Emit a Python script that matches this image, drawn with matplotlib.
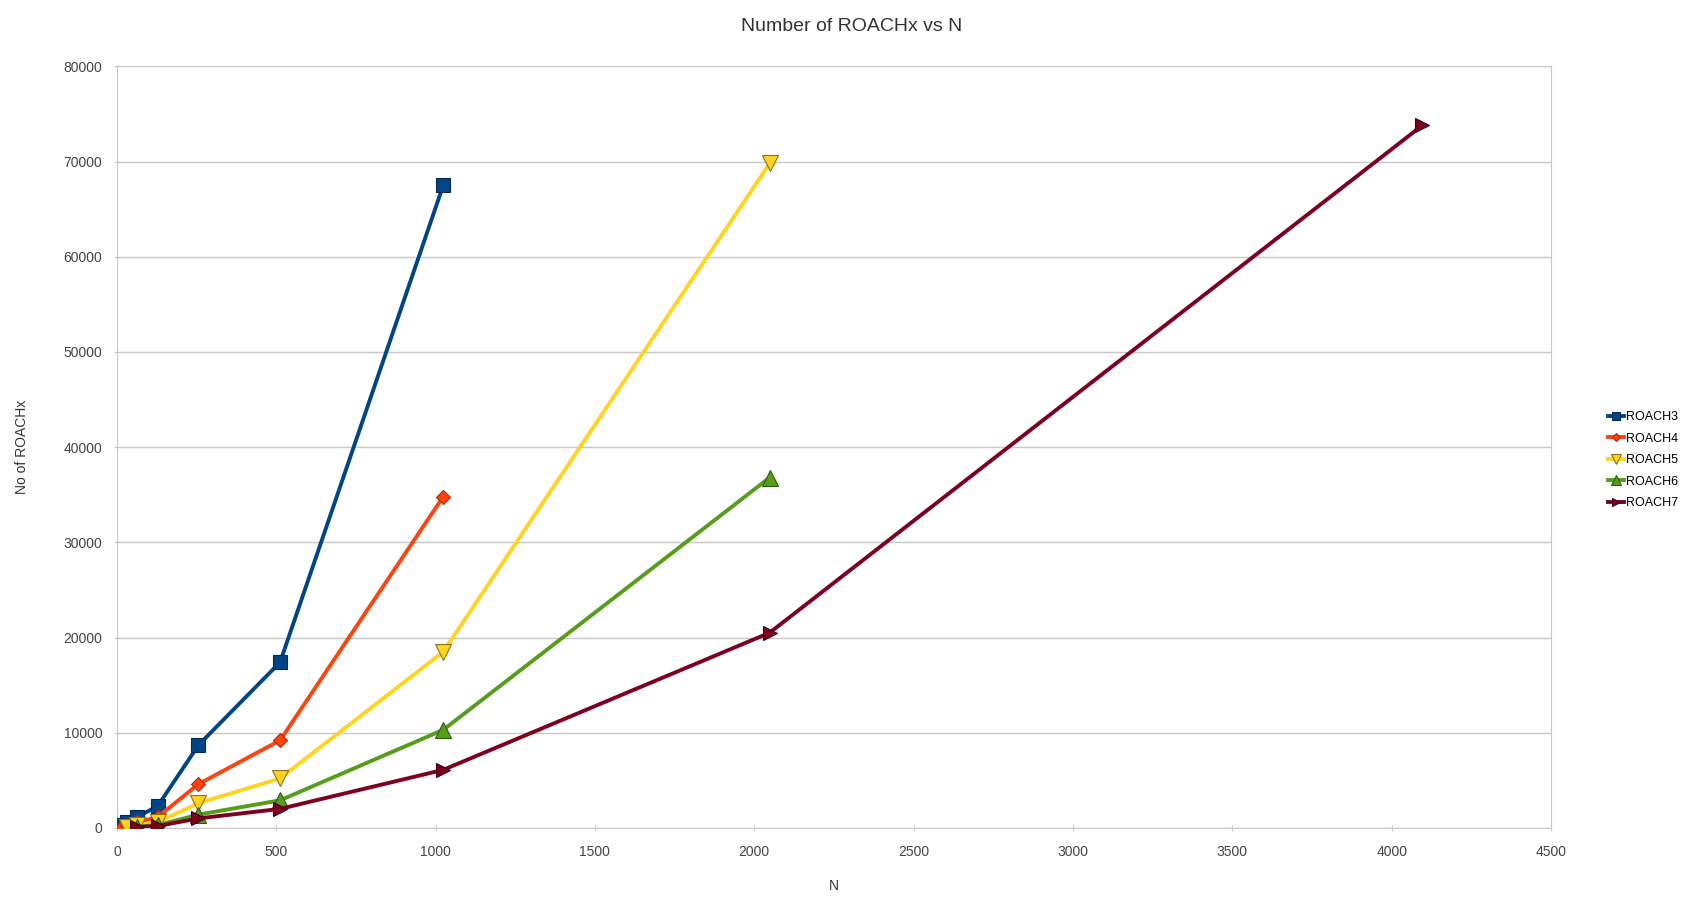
import matplotlib
matplotlib.use('Agg')
import matplotlib.pyplot as plt

plt.rcParams['font.family'] = ['Liberation Sans', 'DejaVu Sans']

# N values and ROACHx counts per series
n_roach3 = [16, 32, 64, 128, 256, 512, 1024]
roach3 = [300, 600, 1150, 2300, 8700, 17400, 67500]

n_roach4 = [16, 32, 64, 128, 256, 512, 1024]
roach4 = [150, 300, 600, 1150, 4600, 9200, 34800]

n_roach5 = [32, 64, 128, 256, 512, 1024, 2048]
roach5 = [150, 300, 600, 2600, 5200, 18500, 69800]

n_roach6 = [64, 128, 256, 512, 1024, 2048]
roach6 = [150, 300, 1400, 2900, 10300, 36800]

n_roach7 = [64, 128, 256, 512, 1024, 2048, 4096]
roach7 = [100, 200, 1000, 2000, 6100, 20500, 73800]

series = [
    ('ROACH3', n_roach3, roach3, '#004586', '#002a55', 's', 10),
    ('ROACH4', n_roach4, roach4, '#ff420e', '#b02a05', 'D', 7),
    ('ROACH5', n_roach5, roach5, '#ffd320', '#8a7410', 'v', 11),
    ('ROACH6', n_roach6, roach6, '#579d1c', '#2f5a0c', '^', 11),
    ('ROACH7', n_roach7, roach7, '#7e0021', '#3c0010', '>', 10),
]

fig = plt.figure(figsize=(16.94, 8.97), dpi=100)
ax = fig.add_axes([0.069, 0.077, 0.8466, 0.849])

for name, xs, ys, col, edge, mk, ms in series:
    ax.plot(xs, ys, color=col, lw=2.8, marker=mk, markersize=ms,
            markerfacecolor=col, markeredgecolor=edge, markeredgewidth=0.8,
            label=name, zorder=3)

ax.set_xlim(0, 4500)
ax.set_ylim(0, 80000)
ax.set_xticks(range(0, 4501, 500))
ax.set_yticks(range(0, 80001, 10000))
ax.yaxis.grid(True, color='#c8c8c8', lw=1)
ax.set_axisbelow(True)
for sp in ax.spines.values():
    sp.set_color('#c8c8c8')
ax.tick_params(colors='#c8c8c8', labelcolor='#444444', labelsize=10,
               length=5, direction='inout')
ax.tick_params(axis='x', pad=10)
ax.tick_params(axis='y', pad=8)

ax.set_xlabel('N', fontsize=10, color='#333333', labelpad=14)
ax.set_ylabel('No of ROACHx', fontsize=10, color='#333333', labelpad=25)
fig.suptitle('Number of ROACHx vs N', x=0.503, y=0.98, fontsize=14,
             color='#333333')

ax.legend(loc='center left', bbox_to_anchor=(0.949, 0.487), bbox_transform=fig.transFigure,
          frameon=False, fontsize=9, handlelength=1.3, handletextpad=0.2,
          labelspacing=0.75, markerscale=0.6, borderaxespad=0, borderpad=0)

fig.savefig('out.png', dpi=100)
